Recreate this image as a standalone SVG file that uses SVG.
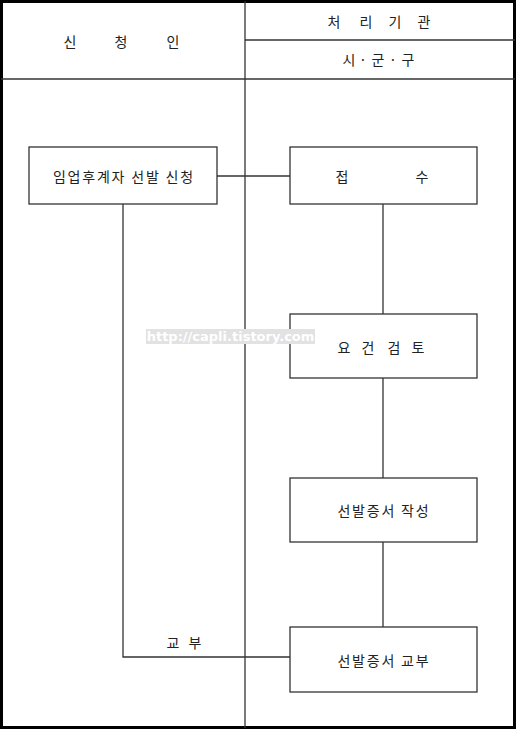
<svg xmlns="http://www.w3.org/2000/svg" width="517" height="730" viewBox="0 0 517 730">
<style>
.frame{fill:none;stroke:#000;stroke-width:3}
.grid{fill:none;stroke:#333;stroke-width:1.3}
.box{fill:#fff;stroke:#333;stroke-width:1.3}
.conn{fill:none;stroke:#333;stroke-width:1.3}
text{font-family:"Noto Sans CJK KR","Noto Sans",sans-serif;font-size:14px;fill:#222;text-anchor:middle;dominant-baseline:central}
.ls{letter-spacing:1.8px}
.wm{font-family:"DejaVu Sans",sans-serif;font-weight:bold;font-size:13px;fill:#fff}
</style>
<rect width="517" height="730" fill="#fff"/>
<g id="table">
<rect class="frame" x="1.5" y="1.5" width="513" height="726"/>
<line class="grid" x1="245" y1="1" x2="245" y2="728"/>
<line class="grid" x1="1" y1="79" x2="515" y2="79"/>
<line class="grid" x1="245" y1="40" x2="515" y2="40"/>
<text y="41"><tspan x="70">신</tspan><tspan x="121">청</tspan><tspan x="173">인</tspan></text>
<text y="21"><tspan x="334">처</tspan><tspan x="366">리</tspan><tspan x="395">기</tspan><tspan x="424">관</tspan></text>
<text y="59"><tspan x="349">시</tspan><tspan x="363">·</tspan><tspan x="378">군</tspan><tspan x="393">·</tspan><tspan x="408">구</tspan></text>
</g>
<g id="connectors">
<line class="conn" x1="217" y1="176" x2="290" y2="176"/>
<line class="conn" x1="383" y1="204" x2="383" y2="627"/>
<polyline class="conn" points="123,204 123,657 290,657"/>
<text y="642"><tspan x="173">교</tspan><tspan x="195">부</tspan></text>
</g>
<g id="n1"><rect class="box" x="29" y="147" width="188" height="57"/><text class="ls" x="123.9" y="176">임업후계자 선발 신청</text></g>
<g id="n2"><rect class="box" x="290" y="147" width="187" height="57"/><text y="176"><tspan x="342">접</tspan><tspan x="422">수</tspan></text></g>
<g id="n3"><rect class="box" x="290" y="314" width="187" height="64"/><text y="347"><tspan x="344">요</tspan><tspan x="368">건</tspan><tspan x="394">검</tspan><tspan x="418">토</tspan></text></g>
<g id="n4"><rect class="box" x="290" y="478" width="187" height="64"/><text class="ls" x="383.9" y="510">선발증서 작성</text></g>
<g id="n5"><rect class="box" x="290" y="627" width="187" height="65"/><text class="ls" x="383.9" y="660">선발증서 교부</text></g>
<g id="watermark"><rect x="146" y="329" width="169" height="15" fill="#e2e2e2"/><text class="wm" x="230.5" y="336.5">http://capli.tistory.com</text></g>
</svg>
